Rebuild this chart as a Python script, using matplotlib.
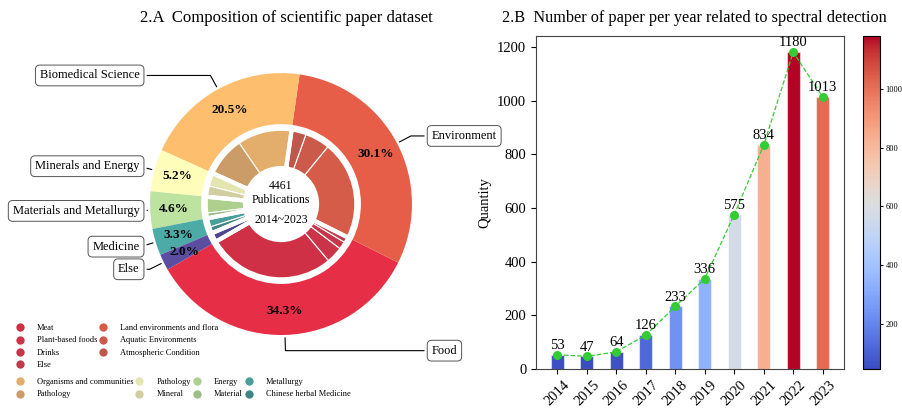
import numpy as np
import matplotlib.pyplot as plt
import matplotlib as mpl
from matplotlib.lines import Line2D

plt.rcParams['font.family'] = ['Liberation Serif', 'DejaVu Serif']

# ---- data: paper composition (counts, total 4461) ----
groups = ['Food', 'Environment', 'Biomedical Science', 'Minerals and Energy',
          'Materials and Metallurgy', 'Medicine', 'Else']
group_counts = [1530, 1343, 915, 232, 205, 147, 89]
group_colors = ['#E62E46', '#E75E48', '#FDBE6E', '#FEFEBA', '#BCE3A0', '#4CABA6', '#5B4EA1']

sub_labels = ['Meat', 'Plant-based foods', 'Drinks', 'Else',
              'Land environments and flora', 'Aquatic Environments', 'Atmospheric Condition',
              'Organisms and communities', 'Pathology',
              'Pathology', 'Mineral',
              'Energy', 'Material',
              'Metallurgy', 'Chinese herbal Medicine',
              'Else']
sub_counts = [1239, 161, 74, 56,
              958, 242, 143,
              528, 387,
              127, 105,
              156, 49,
              87, 60,
              89]
sub_colors = ['#CF3046', '#CB3347', '#C6364A', '#BC3A4C',
              '#D45C48', '#CB5A4A', '#C0574C',
              '#E3AD6B', '#CB9C67',
              '#E5E5B1', '#D3CEA2',
              '#AED08F', '#9CBD86',
              '#4B9F9A', '#3F8683',
              '#4D4590']

# ---- data: papers per year ----
years = ['2014', '2015', '2016', '2017', '2018', '2019', '2020', '2021', '2022', '2023']
papers = [53, 47, 64, 126, 233, 336, 575, 834, 1180, 1013]

fig = plt.figure(figsize=(9.03, 4.08), dpi=100)

# ================= 2.A donut =================
ax1 = fig.add_axes([0.1212, 0.0794, 0.380, 0.841])
start = 210
wedges, _, pcts = ax1.pie(group_counts, colors=group_colors, startangle=start, radius=1.0,
                          autopct='%1.1f%%', pctdistance=0.82,
                          wedgeprops=dict(width=0.39, edgecolor='none'),
                          textprops=dict(fontsize=9.5, fontweight='bold'))
ax1.pie(sub_counts, colors=sub_colors, startangle=start, radius=0.575,
        wedgeprops=dict(width=0.3, edgecolor='white', linewidth=0.8))
# thicker white gaps between the groups of the inner ring
ax1.pie(group_counts, colors=['none'] * len(group_counts), startangle=start, radius=0.575,
        wedgeprops=dict(width=0.3, edgecolor='white', linewidth=3))
ax1.set_xlim(-1.31, 1.31)
ax1.set_ylim(-1.31, 1.31)
ax1.set_aspect('equal')
ax1.axis('off')

ax1.text(0, 0.085, '4461\nPublications', ha='center', va='center', fontsize=8.5, linespacing=1.15)
ax1.text(0, -0.12, '2014~2023', ha='center', va='center', fontsize=8.5)

# labels with boxes
bbox_props = dict(boxstyle='round,pad=0.35', fc='white', ec='#555555', lw=0.7)
for i, p in enumerate(wedges):
    ang = (p.theta2 - p.theta1) / 2. + p.theta1
    y = np.sin(np.deg2rad(ang))
    x = np.cos(np.deg2rad(ang))
    if x > 0:
        ha, xt = 'left', 1.15
    else:
        ha, xt = 'right', -1.08
    ax1.annotate(groups[i], xy=(x, y), xytext=(xt, 1.12 * y), ha=ha, va='center',
                 fontsize=9, bbox=bbox_props, zorder=0,
                 arrowprops=dict(arrowstyle='-', color='black', lw=0.8,
                                 connectionstyle=f'angle,angleA=0,angleB={ang}'))

fig.text(286 / 903, 1 - 18 / 408, '2.A  Composition of scientific paper dataset',
         ha='center', va='center', fontsize=12)

# legends for the inner ring
def dot(c):
    return Line2D([0], [0], marker='o', color='none', markerfacecolor=c,
                  markeredgecolor='none', markersize=6)

leg_kw = dict(loc='upper left', frameon=False, fontsize=6, handlelength=1.2,
              handletextpad=1.45, columnspacing=0.1, labelspacing=0.5, borderaxespad=0)
h1 = [dot(c) for c in sub_colors[0:7]]
fig.legend(h1, sub_labels[0:7], ncol=2, bbox_to_anchor=(0.013, 1 - 321 / 408), **leg_kw)
h2 = [dot(c) for c in sub_colors[7:15]]
fig.legend(h2, sub_labels[7:15], ncol=4, bbox_to_anchor=(0.013, 1 - 375 / 408), **leg_kw)

# ================= 2.B bars =================
ax2 = fig.add_axes([0.5936, 0.0956, 0.341, 0.816])
norm = mpl.colors.Normalize(vmin=min(papers), vmax=max(papers))
cmap = plt.get_cmap('coolwarm')
xpos = np.arange(len(years))
ax2.bar(xpos, papers, width=0.45, color=cmap(norm(np.array(papers))),
        edgecolor=(1, 1, 1, 0.5), linewidth=0.8)
ax2.plot(xpos, papers, '--o', color='#33CC33', lw=0.9, markersize=5.5)
for xi, v in zip(xpos, papers):
    ax2.annotate(str(v), (xi, v), xytext=(0, 2), textcoords='offset points',
                 ha='center', va='bottom', fontsize=10.5)
ax2.set_xticks(xpos)
ax2.set_xticklabels(years, rotation=45, fontsize=10.5)
ax2.tick_params(axis='y', labelsize=10.5)
ax2.set_xlim(-0.72, 9.72)
ax2.set_ylim(0, 1240)
ax2.set_ylabel('Quantity', fontsize=10.5)
ax2.set_xlabel('Year', fontsize=10.5, labelpad=2)
for s in ax2.spines.values():
    s.set_color('#444444')

fig.text(694 / 903, 1 - 18 / 408, '2.B  Number of paper per year related to spectral detection',
         ha='center', va='center', fontsize=11.7)

cax = fig.add_axes([0.9557, 0.0956, 0.0188, 0.816])
sm = mpl.cm.ScalarMappable(norm=norm, cmap=cmap)
cb = fig.colorbar(sm, cax=cax)
cb.set_ticks([200, 400, 600, 800, 1000])
cax.tick_params(labelsize=6, pad=1.5, length=2.5)

fig.savefig('out.png', dpi=100)
